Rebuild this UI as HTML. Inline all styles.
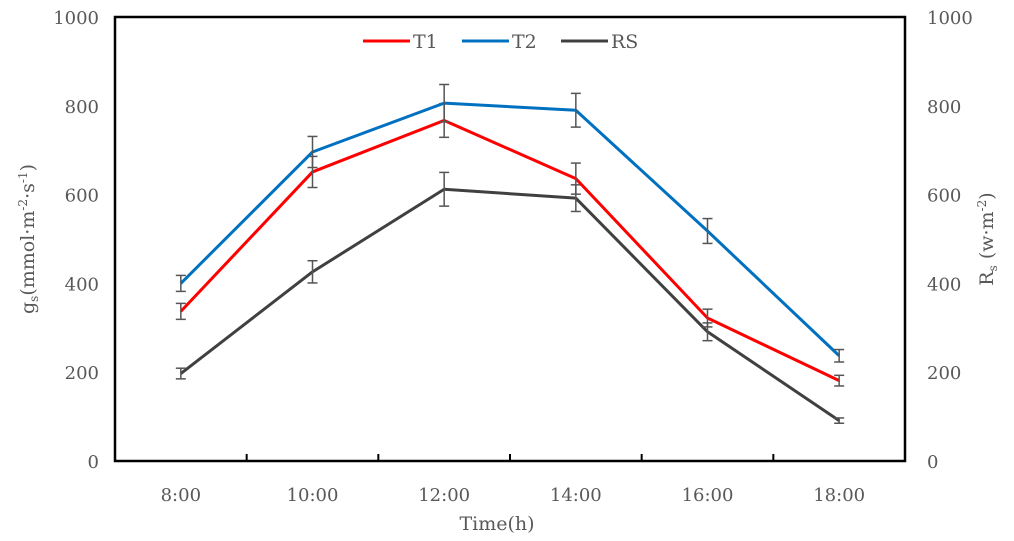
<!DOCTYPE html>
<html><head><meta charset="utf-8"><style>
body{margin:0;background:#fff}
svg text{font-family:"DejaVu Serif","Liberation Serif",serif;fill:#595959}
</style></head><body>
<svg width="1014" height="536">
<rect x="115" y="17" width="790" height="444" fill="none" stroke="#000" stroke-width="2.5"/>
<g id="ticks"></g>
<g id="series"></g>
<text x="497" y="530" font-size="19" text-anchor="middle">Time(h)</text>
<text transform="translate(34,239) rotate(-90)" font-size="19" text-anchor="middle">g<tspan font-size="12" dy="4">s</tspan><tspan dy="-4">(mmol·m</tspan><tspan font-size="12" dy="-7">-2</tspan><tspan dy="7">·s</tspan><tspan font-size="12" dy="-7">-1</tspan><tspan dy="7">)</tspan></text>
<text transform="translate(993,239) rotate(-90)" font-size="19" text-anchor="middle">R<tspan font-size="12" dy="4">s</tspan><tspan dy="-4"> (w·m</tspan><tspan font-size="12" dy="-7">-2</tspan><tspan dy="7">)</tspan></text>
<g>
<line x1="363" y1="41" x2="410" y2="41" stroke="#ff0000" stroke-width="3"/>
<text x="413" y="48" font-size="19">T1</text>
<line x1="462" y1="41" x2="509" y2="41" stroke="#0070c0" stroke-width="3"/>
<text x="512" y="48" font-size="19">T2</text>
<line x1="561" y1="41" x2="608" y2="41" stroke="#404040" stroke-width="3"/>
<text x="611" y="48" font-size="19">RS</text>
</g>
</svg>
<script>
const categories=["8:00","10:00","12:00","14:00","16:00","18:00"];
const t1Values=[337,651,767,636,322,181];
const t2Values=[400,696,806,790,518,237];
const rsValues=[197,426,612,592,291,91];
const t1Errors=[18,35,38,35,20,12];
const t2Errors=[18,35,42,38,28,14];
const rsErrors=[12,25,38,30,20,6];
const yTicks=[0,200,400,600,800,1000];
const NS="http://www.w3.org/2000/svg";
const X0=115,X1=905,Y0=461,Y1=17;
const bw=(X1-X0)/categories.length;
const xs=i=>X0+bw*(i+0.5);
const ys=v=>Y0-(v/1000)*(Y0-Y1);
function mk(tag,attrs,parent){const e=document.createElementNS(NS,tag);for(const k in attrs)e.setAttribute(k,attrs[k]);parent.appendChild(e);return e;}
const tg=document.getElementById('ticks');
yTicks.forEach(v=>{
 const a=mk('text',{x:X0-16,y:ys(v)+7,'font-size':18,'text-anchor':'end'},tg);a.textContent=v;
 
 
 const b=mk('text',{x:X1+22,y:ys(v)+7,'font-size':18},tg);b.textContent=v;
 
 
});
categories.forEach((c,i)=>{
 const t=mk('text',{x:xs(i),y:501,'font-size':18,'text-anchor':'middle'},tg);t.textContent=c;
 
 
 if(i>0){const l=mk('line',{x1:X0+bw*i,x2:X0+bw*i,y1:Y0,y2:Y0-7,stroke:'#000','stroke-width':2},tg);
 
 }
});
const sg=document.getElementById('series');
[[rsValues,rsErrors,'#404040','rs'],[t1Values,t1Errors,'#ff0000','t1'],[t2Values,t2Errors,'#0070c0','t2']].forEach(([vals,errs,col,nm])=>{
 const p=mk('polyline',{points:vals.map((v,i)=>xs(i)+','+ys(v)).join(' '),fill:'none',stroke:col,'stroke-width':3,'stroke-linejoin':'round'},sg);
 
 
 vals.forEach((v,i)=>{
  const g=mk('g',{stroke:'#555','stroke-width':1.5},sg);
  
  
  const x=xs(i),a=ys(v+errs[i]),b=ys(v-errs[i]);
  mk('line',{x1:x,x2:x,y1:a,y2:b},g);
  mk('line',{x1:x-5,x2:x+5,y1:a,y2:a},g);
  mk('line',{x1:x-5,x2:x+5,y1:b,y2:b},g);
 });
});
</script>
</body></html>
